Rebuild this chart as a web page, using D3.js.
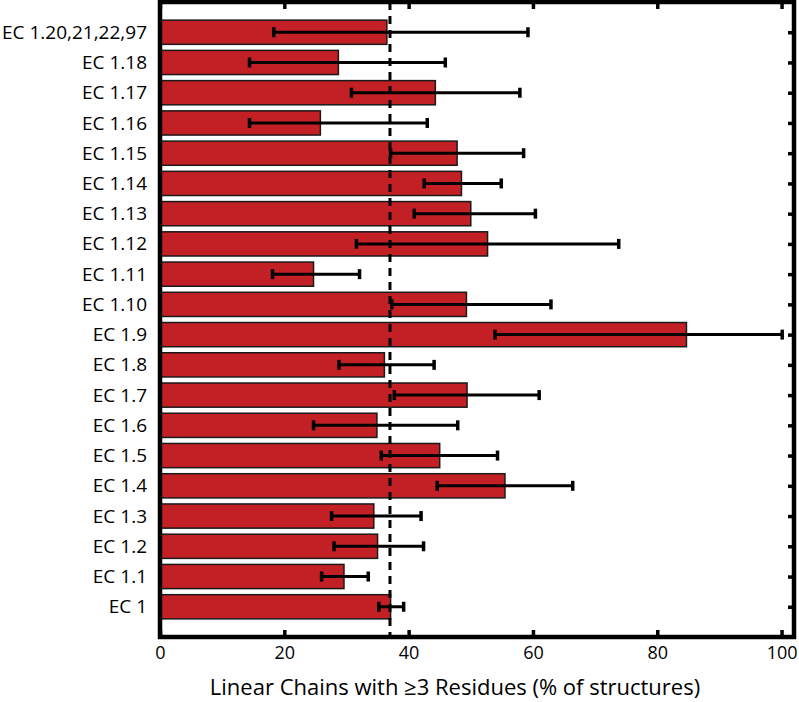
<!DOCTYPE html>
<html>
<head>
<meta charset="utf-8">
<script src="https://cdn.jsdelivr.net/npm/d3@7"></script>
<style>
  body { margin: 0; background: #fff; }
  svg { display: block; }
</style>
</head>
<body>
<div id="chart"></div>
<script>
// categories, top to bottom
const categories = ['EC 1.20,21,22,97', 'EC 1.18', 'EC 1.17', 'EC 1.16', 'EC 1.15',
  'EC 1.14', 'EC 1.13', 'EC 1.12', 'EC 1.11', 'EC 1.10', 'EC 1.9', 'EC 1.8',
  'EC 1.7', 'EC 1.6', 'EC 1.5', 'EC 1.4', 'EC 1.3', 'EC 1.2', 'EC 1.1', 'EC 1'];
const values  = [36.5, 28.7, 44.3, 25.8, 47.8, 48.5, 50.0, 52.7, 24.7, 49.3,
  84.7, 36.1, 49.4, 34.9, 45.0, 55.5, 34.4, 35.0, 29.6, 37.1];
const errLow  = [18.3, 14.4, 30.8, 14.4, 37.1, 42.5, 40.9, 31.6, 18.1, 37.3,
  53.9, 28.8, 37.7, 24.7, 35.6, 44.6, 27.6, 28.0, 26.0, 35.2];
const errHigh = [59.2, 45.9, 57.9, 43.0, 58.5, 54.9, 60.4, 73.8, 32.1, 62.9,
  100.1, 44.1, 61.0, 47.9, 54.3, 66.4, 42.0, 42.4, 33.5, 39.2];
const xTicks = [0, 20, 40, 60, 80, 100];
const refLine = 37.0;
const xTitle = 'Linear Chains with \u22653 Residues (% of structures)';

const W = 799, H = 702;
const mLeft = 160, mRight = 794, mTop = 2, mBottom = 637;
const font = '"Open Sans", "Noto Sans", sans-serif';

const data = categories.map((c, i) => ({cat: c, v: values[i], lo: errLow[i], hi: errHigh[i]}));

const x = d3.scaleLinear().domain([0, 102]).range([mLeft, mRight]);
const y = d3.scalePoint().domain(categories).range([mTop, mBottom]).padding(1);
const barH = y.step() * 0.8;

const svg = d3.select('#chart').append('svg')
  .attr('width', W).attr('height', H)
  .style('font-family', font);

// bars
svg.selectAll('.bar')
  .data(data)
  .enter().append('rect')
  .attr('class', 'bar')
  .attr('x', x(0))
  .attr('y', d => y(d.cat) - barH / 2)
  .attr('width', d => x(d.v) - x(0))
  .attr('height', barH)
  .attr('fill', '#c32025')
  .attr('stroke', '#1a1a1a')
  .attr('stroke-width', 1.5);

// reference dashed line
svg.append('line')
  .attr('x1', x(refLine)).attr('x2', x(refLine))
  .attr('y1', mTop).attr('y2', mBottom)
  .attr('stroke', '#000')
  .attr('stroke-width', 3)
  .attr('stroke-dasharray', '8,6');

// error bars
const err = svg.selectAll('.err')
  .data(data)
  .enter().append('g')
  .attr('class', 'err')
  .attr('stroke', '#000');
err.append('line')
  .attr('x1', d => x(d.lo)).attr('x2', d => x(d.hi))
  .attr('y1', d => y(d.cat)).attr('y2', d => y(d.cat))
  .attr('stroke-width', 3);
err.append('line')
  .attr('x1', d => x(d.lo)).attr('x2', d => x(d.lo))
  .attr('y1', d => y(d.cat) - 5).attr('y2', d => y(d.cat) + 5)
  .attr('stroke-width', 3.5);
err.append('line')
  .attr('x1', d => x(d.hi)).attr('x2', d => x(d.hi))
  .attr('y1', d => y(d.cat) - 5).attr('y2', d => y(d.cat) + 5)
  .attr('stroke-width', 3.5);

// axes (ticks pointing inward)
const xAxis = svg.append('g')
  .attr('transform', `translate(0,${mBottom})`)
  .call(d3.axisBottom(x).tickValues(xTicks).tickSizeInner(-7).tickSizeOuter(0).tickPadding(9));
const xTop = svg.append('g')
  .attr('transform', `translate(0,${mTop})`)
  .call(d3.axisTop(x).tickValues(xTicks).tickSizeInner(-7).tickSizeOuter(0).tickFormat(''));
const yAxis = svg.append('g')
  .attr('transform', `translate(${mLeft},0)`)
  .call(d3.axisLeft(y).tickSizeInner(0).tickSizeOuter(0).tickPadding(13));
const yRight = svg.append('g')
  .attr('transform', `translate(${mRight},0)`)
  .call(d3.axisRight(y).tickSizeInner(-6).tickSizeOuter(0).tickFormat(''));

[xAxis, xTop, yAxis, yRight].forEach(g => {
  g.attr('font-family', font);
  g.select('.domain').remove();
  g.selectAll('.tick line').attr('stroke', '#000').attr('stroke-width', 3.5);
});
xAxis.selectAll('.tick text').attr('font-size', 18).attr('fill', '#000');
yAxis.selectAll('.tick text').attr('font-size', 19).attr('fill', '#000');

// frame
svg.append('rect')
  .attr('x', mLeft).attr('y', mTop)
  .attr('width', mRight - mLeft).attr('height', mBottom - mTop)
  .attr('fill', 'none')
  .attr('stroke', '#000')
  .attr('stroke-width', 4.5);

// axis title
svg.append('text')
  .attr('x', (mLeft + mRight) / 2 - 22)
  .attr('y', 695)
  .attr('text-anchor', 'middle')
  .attr('font-size', 22)
  .attr('fill', '#000')
  .text(xTitle);
</script>
</body>
</html>
